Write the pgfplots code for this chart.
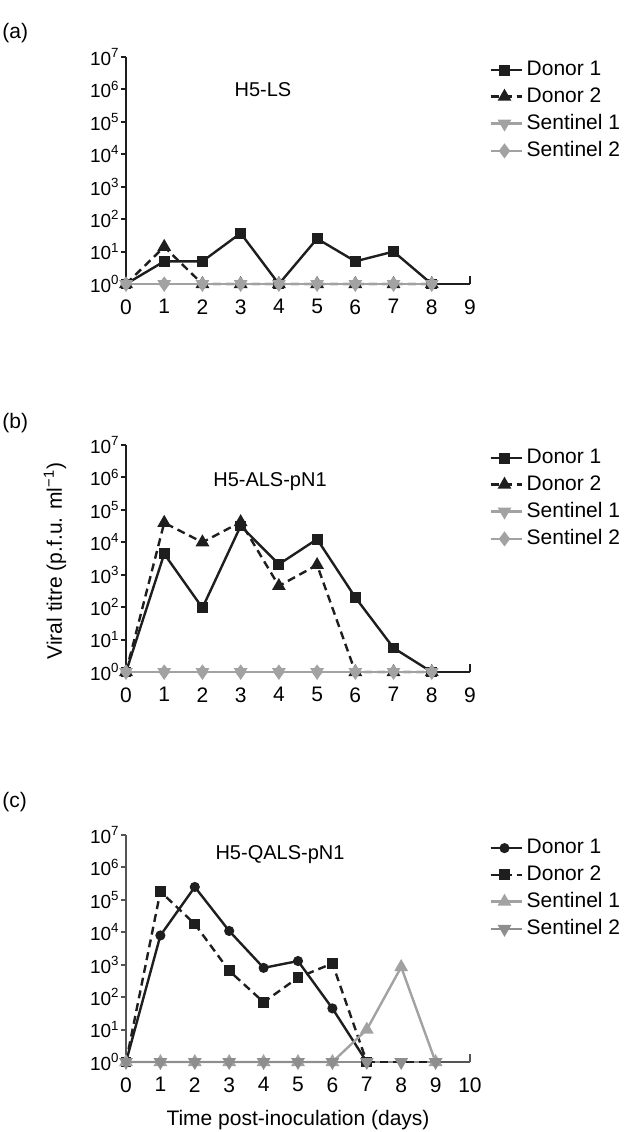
\documentclass[border=0pt]{standalone}
\usepackage{fontspec}
\setmainfont{Liberation Sans}
\usepackage{pgfplots}
\pgfplotsset{compat=1.18}
\definecolor{ink}{HTML}{1E1E1E}
\definecolor{sent}{HTML}{A2A2A2}
\definecolor{sentb}{HTML}{8E8E8E}
\definecolor{axc}{HTML}{555555}

\pgfplotsset{
 pdone/.style={ink, line width=1.2pt, mark=square*, mark size=2.1pt, mark options={solid}},
 pdtwo/.style={ink, line width=1.2pt, dash pattern=on 4pt off 2.5pt, mark=triangle*, mark size=2.8pt, mark options={solid}},
 psone/.style={sent, line width=1.2pt, mark=triangle*, mark size=2.8pt, mark options={solid, rotate=180}},
 pstwo/.style={sent, line width=1.2pt, mark=diamond*, mark size=2.8pt, mark options={solid}},
 pcone/.style={ink, line width=1.2pt, mark=*, mark size=1.9pt, mark options={solid}},
 pctwo/.style={ink, line width=1.2pt, dash pattern=on 4pt off 2.5pt, mark=square*, mark size=2.1pt, mark options={solid}},
 pcthree/.style={sent, line width=1.2pt, mark=triangle*, mark size=2.8pt, mark options={solid}},
 pcfour/.style={sentb, line width=1.2pt, mark=triangle*, mark size=2.8pt, mark options={solid, rotate=180}},
}

\begin{document}
\begin{tikzpicture}
\useasboundingbox (0pt,0pt) rectangle (312pt,-566pt);

% ---------- panel (a)
\begin{axis}[ymode=log, at={(63pt,-142pt)}, anchor=south west, xmin=0, xmax=9, xtick={0,1,2,3,4,5,6,7,8,9},
  scale only axis, width=172pt, height=113.5pt,
  axis x line=bottom, axis y line=left, axis line style={line width=1.3pt, ink, -},
  ymin=1, ymax=10000000,
  ytick={1,10,100,1000,10000,100000,1000000,10000000},
  yticklabels={10\textsuperscript{0},10\textsuperscript{1},10\textsuperscript{2},10\textsuperscript{3},10\textsuperscript{4},10\textsuperscript{5},10\textsuperscript{6},10\textsuperscript{7}},
  yminorticks=false,
  tick align=outside, major tick length=2.5pt, tick style={line width=1pt, ink},
  xtick style={draw=none},
  extra x ticks={9}, extra x tick labels={}, extra x tick style={tick align=inside, major tick length=4pt, xtick style={draw=ink, line width=1.3pt}},
  yticklabel style={font=\fontsize{9.5}{11}\selectfont, inner sep=0.5pt},
  xticklabel style={font=\fontsize{10.5}{12}\selectfont, inner sep=1pt},
  xticklabel shift=4pt,
  xticklabel={\pgfmathprintnumber[assume math mode=true]{\tick}},
  clip=false,
  legend cell align=left,
  legend style={at={(rel axis cs:1.055,1.0)}, anchor=north west, draw=none, fill=none,
     font=\fontsize{10.5}{12}\selectfont, inner sep=0pt, row sep=0.5pt},
  legend image code/.code={\draw[mark repeat=2,mark phase=2,#1] plot coordinates {(0pt,0pt) (7pt,0pt) (14pt,0pt)}; \path (0pt,0pt) -- (15.5pt,0pt);},
]
\addplot[pdone] coordinates {(0,1) (1,5) (2,5) (3,37) (4,1) (5,25) (6,5) (7,10) (8,1)};
\addlegendentry{Donor 1}
\addplot[pdtwo] coordinates {(0,1) (1,14) (2,1) (3,1) (4,1) (5,1) (6,1) (7,1) (8,1)};
\addlegendentry{Donor 2}
\addplot[psone] coordinates {(0,1) (1,1) (2,1) (3,1) (4,1) (5,1) (6,1) (7,1) (8,1)};
\addlegendentry{Sentinel 1}
\addplot[pstwo] coordinates {(0,1) (1,1) (2,1) (3,1) (4,1) (5,1) (6,1) (7,1) (8,1)};
\addlegendentry{Sentinel 2}
\end{axis}

% ---------- panel (b)
\begin{axis}[ymode=log, at={(63pt,-336pt)}, anchor=south west, xmin=0, xmax=9, xtick={0,1,2,3,4,5,6,7,8,9},
  scale only axis, width=172pt, height=113.5pt,
  axis x line=bottom, axis y line=left, axis line style={line width=1.3pt, ink, -},
  ymin=1, ymax=10000000,
  ytick={1,10,100,1000,10000,100000,1000000,10000000},
  yticklabels={10\textsuperscript{0},10\textsuperscript{1},10\textsuperscript{2},10\textsuperscript{3},10\textsuperscript{4},10\textsuperscript{5},10\textsuperscript{6},10\textsuperscript{7}},
  yminorticks=false,
  tick align=outside, major tick length=2.5pt, tick style={line width=1pt, ink},
  xtick style={draw=none},
  extra x ticks={9}, extra x tick labels={}, extra x tick style={tick align=inside, major tick length=4pt, xtick style={draw=ink, line width=1.3pt}},
  yticklabel style={font=\fontsize{9.5}{11}\selectfont, inner sep=0.5pt},
  xticklabel style={font=\fontsize{10.5}{12}\selectfont, inner sep=1pt},
  xticklabel shift=4pt,
  xticklabel={\pgfmathprintnumber[assume math mode=true]{\tick}},
  clip=false,
  legend cell align=left,
  legend style={at={(rel axis cs:1.055,1.0)}, anchor=north west, draw=none, fill=none,
     font=\fontsize{10.5}{12}\selectfont, inner sep=0pt, row sep=0.5pt},
  legend image code/.code={\draw[mark repeat=2,mark phase=2,#1] plot coordinates {(0pt,0pt) (7pt,0pt) (14pt,0pt)}; \path (0pt,0pt) -- (15.5pt,0pt);},
]
\addplot[pdone] coordinates {(0,1) (1,4400) (2,95) (3,32000) (4,2100) (5,12500) (6,200) (7,5.5) (8,1)};
\addlegendentry{Donor 1}
\addplot[pdtwo] coordinates {(0,1) (1,40000) (2,10000) (3,42000) (4,450) (5,2000) (6,1) (7,1) (8,1)};
\addlegendentry{Donor 2}
\addplot[psone] coordinates {(0,1) (1,1) (2,1) (3,1) (4,1) (5,1) (6,1) (7,1) (8,1)};
\addlegendentry{Sentinel 1}
\addplot[pstwo] coordinates {(0,1) (1,1) (2,1) (3,1) (4,1) (5,1) (6,1) (7,1) (8,1)};
\addlegendentry{Sentinel 2}
\end{axis}

% ---------- panel (c)
\begin{axis}[ymode=log, at={(63pt,-531pt)}, anchor=south west, xmin=0, xmax=10, xtick={0,1,2,3,4,5,6,7,8,9,10},
  scale only axis, width=172pt, height=113.5pt,
  axis x line=bottom, axis y line=left, axis line style={line width=1.3pt, axc, -},
  ymin=1, ymax=10000000,
  ytick={1,10,100,1000,10000,100000,1000000,10000000},
  yticklabels={10\textsuperscript{0},10\textsuperscript{1},10\textsuperscript{2},10\textsuperscript{3},10\textsuperscript{4},10\textsuperscript{5},10\textsuperscript{6},10\textsuperscript{7}},
  yminorticks=false,
  tick align=outside, major tick length=2.5pt, tick style={line width=1pt, axc},
  xtick style={draw=none},
  extra x ticks={10}, extra x tick labels={}, extra x tick style={tick align=inside, major tick length=4pt, xtick style={draw=axc, line width=1.3pt}},
  yticklabel style={font=\fontsize{9.5}{11}\selectfont, inner sep=0.5pt},
  xticklabel style={font=\fontsize{10.5}{12}\selectfont, inner sep=1pt},
  xticklabel shift=4pt,
  xticklabel={\pgfmathprintnumber[assume math mode=true]{\tick}},
  clip=false,
  legend cell align=left,
  legend style={at={(rel axis cs:1.055,1.0)}, anchor=north west, draw=none, fill=none,
     font=\fontsize{10.5}{12}\selectfont, inner sep=0pt, row sep=0.5pt},
  legend image code/.code={\draw[mark repeat=2,mark phase=2,#1] plot coordinates {(0pt,0pt) (7pt,0pt) (14pt,0pt)}; \path (0pt,0pt) -- (15.5pt,0pt);},
]
\addplot[pcone] coordinates {(0,1) (1,8000) (2,250000) (3,11000) (4,800) (5,1300) (6,45) (7,1)};
\addlegendentry{Donor 1}
\addplot[pctwo] coordinates {(0,1) (1,180000) (2,18000) (3,650) (4,70) (5,400) (6,1100) (7,1)};
\addlegendentry{Donor 2}
\addplot[pcthree] coordinates {(0,1) (1,1) (2,1) (3,1) (4,1) (5,1) (6,1) (7,10) (8,850) (9,1)};
\addlegendentry{Sentinel 1}
\addplot[pcfour] coordinates {(0,1) (1,1) (2,1) (3,1) (4,1) (5,1) (6,1) (7,1) (8,1) (9,1)};
\addlegendentry{Sentinel 2}
\addplot[ink, line width=1.2pt, dash pattern=on 4pt off 2.5pt, forget plot] coordinates {(7,1) (8,1) (9,1)};
\end{axis}

% ---------- texts
\node[anchor=west, inner sep=0pt, font=\fontsize{10.5}{12}\selectfont] at (1pt,-16.5pt) {(a)};
\node[anchor=west, inner sep=0pt, font=\fontsize{10.5}{12}\selectfont] at (1pt,-211.5pt) {(b)};
\node[anchor=west, inner sep=0pt, font=\fontsize{10.5}{12}\selectfont] at (1pt,-401pt) {(c)};
\node[font=\fontsize{10}{12}\selectfont] at (131.5pt,-45pt) {H5-LS};
\node[font=\fontsize{10}{12}\selectfont] at (135pt,-241pt) {H5-ALS-pN1};
\node[font=\fontsize{10}{12}\selectfont] at (140pt,-427.5pt) {H5-QALS-pN1};
\node[rotate=90, font=\fontsize{10.5}{12}\selectfont] at (27.5pt,-280.5pt) {Viral titre (p.f.u. ml\textsuperscript{−1})};
\node[font=\fontsize{10.5}{12}\selectfont] at (149pt,-560pt) {Time post-inoculation (days)};
\end{tikzpicture}
\end{document}
